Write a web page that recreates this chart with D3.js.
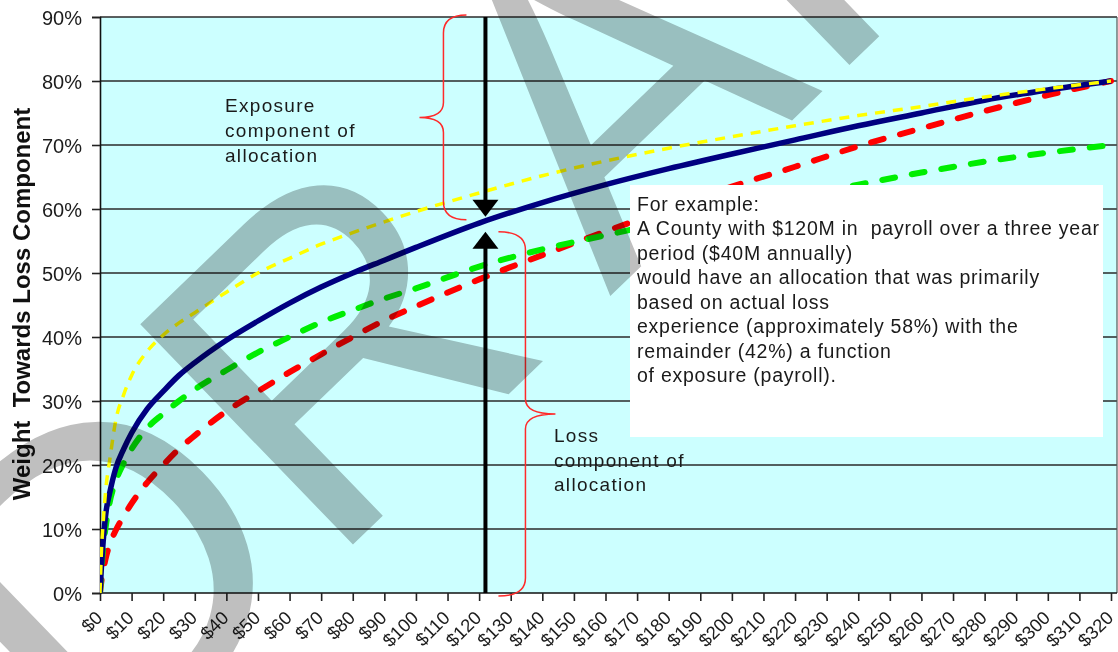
<!DOCTYPE html>
<html>
<head>
<meta charset="utf-8">
<script src="https://cdn.jsdelivr.net/npm/d3@7"></script>
<style>
  html, body { margin: 0; padding: 0; background: #fff; }
  svg { display: block; font-family: Arial, "Liberation Sans", sans-serif; }
</style>
</head>
<body>
<svg id="chart" width="1118" height="652"></svg>
<script>
// Annual payroll ($M) at which each weighting curve is sampled
const payroll = [0, 0.5, 1, 2, 3, 5, 7.5, 10, 15, 20, 25, 30, 40, 50, 60, 70, 80, 90, 100,
                 120, 140, 160, 180, 200, 220, 240, 260, 280, 300, 320];

// Weight given to the loss component (%), one list per curve
const weightYellow = [0, 7, 11, 17, 20.5, 27, 31, 34, 37.8, 40.3, 42.2, 43.8, 47, 50, 52.3, 54.5, 56.3, 58, 59.6,
                      62.5, 65.2, 67.5, 69.5, 71.3, 73, 74.6, 76, 77.5, 78.8, 80];
const weightNavy   = [0, 4.5, 8, 13, 15.5, 19.5, 22.5, 25, 28.8, 31.5, 34, 36, 39.5, 42.5, 45.3, 47.8, 50, 52, 54,
                      57.8, 61, 63.8, 66.3, 68.6, 70.8, 73, 75, 77, 78.6, 80];
const weightGreen  = [0, 4, 7, 11, 14, 17.5, 20.3, 22.5, 25.8, 28, 30, 31.8, 34.8, 37.6, 40, 42.3, 44.2, 46, 47.6,
                      51, 53.7, 55.9, 58, 60, 62, 63.8, 65.7, 67.4, 68.8, 70];
const weightRed    = [0, 2, 3.5, 5.8, 7.5, 9.8, 12, 14, 17.3, 20, 22.5, 24.6, 28.4, 31.5, 34.5, 37.3, 40, 42.6, 44.8,
                      49, 52.8, 56.5, 60, 63.5, 66.6, 69.8, 72.6, 75.3, 77.8, 80];

// Axis ticks and labels
const yTicks = [0, 10, 20, 30, 40, 50, 60, 70, 80, 90];
const yTickLabels = ["0%", "10%", "20%", "30%", "40%", "50%", "60%", "70%", "80%", "90%"];
const xTicks = [0, 10, 20, 30, 40, 50, 60, 70, 80, 90, 100, 110, 120, 130, 140, 150, 160, 170, 180, 190,
                200, 210, 220, 230, 240, 250, 260, 270, 280, 290, 300, 310, 320];
const xTickLabels = ["$0", "$10", "$20", "$30", "$40", "$50", "$60", "$70", "$80", "$90", "$100", "$110", "$120",
                     "$130", "$140", "$150", "$160", "$170", "$180", "$190", "$200", "$210", "$220", "$230",
                     "$240", "$250", "$260", "$270", "$280", "$290", "$300", "$310", "$320"];

// Worked example: $120M payroll, about 58% weight on losses
const examplePayroll = 122;
const exampleWeight = 58;
const exampleLines = [
  "For example:",
  "A County with $120M in  payroll over a three year",
  "period ($40M annually)",
  "would have an allocation that was primarily",
  "based on actual loss",
  "experience (approximately 58%) with the",
  "remainder (42%) a function",
  "of exposure (payroll)."
];
const exposureLabel = ["Exposure", "component of", "allocation"];
const lossLabel = ["Loss", "component of", "allocation"];
const yTitle = "Weight  Towards Loss Component";

const svg = d3.select("#chart");
const W = 1118, H = 652;
const plot = { left: 100, right: 1117, top: 17, bottom: 593 };

const x = d3.scaleLinear().domain([0, 320]).range([100, 1111]);
const y = d3.scaleLinear().domain([0, 90]).range([plot.bottom, plot.top]);

svg.append("rect").attr("width", W).attr("height", H).attr("fill", "#fff");

// plot background
svg.append("rect")
  .attr("x", plot.left).attr("y", plot.top)
  .attr("width", plot.right - plot.left).attr("height", plot.bottom - plot.top)
  .attr("fill", "#ccffff");

// horizontal gridlines
svg.append("g").selectAll("line").data(yTicks.filter(d => d > 0)).join("line")
  .attr("x1", plot.left).attr("x2", plot.right)
  .attr("y1", d => y(d)).attr("y2", d => y(d))
  .attr("stroke", "#2a2a2a").attr("stroke-width", 1.6);

// right border
svg.append("line")
  .attr("x1", plot.right).attr("x2", plot.right)
  .attr("y1", plot.top).attr("y2", plot.bottom)
  .attr("stroke", "#555").attr("stroke-width", 1.2);

// y axis
const yAxis = d3.axisLeft(y).tickValues(yTicks)
  .tickFormat((d, i) => yTickLabels[i]).tickSize(8).tickPadding(10);
const gy = svg.append("g").attr("transform", `translate(${plot.left},0)`).call(yAxis);
gy.select(".domain").attr("stroke", "#111").attr("stroke-width", 1.6);
gy.selectAll(".tick line").attr("stroke", "#222").attr("stroke-width", 1.6);
gy.selectAll(".tick text").attr("font-size", 20).attr("fill", "#1c1c1c")
  .attr("font-family", "Arial, 'Liberation Sans', sans-serif").attr("dy", "0.36em");

// x axis
const xAxis = d3.axisBottom(x).tickValues(xTicks)
  .tickFormat((d, i) => xTickLabels[i]).tickSize(8);
const gx = svg.append("g").attr("transform", `translate(0,${plot.bottom})`).call(xAxis);
gx.select(".domain").attr("d", `M${plot.left},0H${plot.right}`).attr("stroke", "#111").attr("stroke-width", 1.6);
gx.selectAll(".tick line").attr("stroke", "#222").attr("stroke-width", 1.6);
gx.selectAll(".tick text")
  .attr("font-size", 18.5).attr("fill", "#1c1c1c")
  .attr("font-family", "Arial, 'Liberation Sans', sans-serif")
  .attr("text-anchor", "end").attr("y", 0).attr("dy", 0)
  .attr("transform", "translate(3,26) rotate(-45)");

// y axis title
svg.append("text")
  .attr("transform", `translate(30,${(plot.top + plot.bottom) / 2 - 1}) rotate(-90)`)
  .attr("text-anchor", "middle")
  .attr("font-size", 24).attr("font-weight", "bold").attr("fill", "#111")
  .style("white-space", "pre")
  .text(yTitle);

// curves
svg.append("clipPath").attr("id", "plotClip").append("rect")
  .attr("x", plot.left).attr("y", plot.top - 4)
  .attr("width", plot.right - plot.left + 2).attr("height", plot.bottom - plot.top + 4);

const line = d3.line().x(d => x(d[0])).y(d => y(d[1])).curve(d3.curveMonotoneX);
const curves = [
  { values: weightRed,    color: "#ff0000", width: 6,   dash: "13,17", cap: "round" },
  { values: weightGreen,  color: "#00ee00", width: 6,   dash: "13,17", cap: "round" },
  { values: weightNavy,   color: "#000080", width: 5.5, dash: null,    cap: "butt" },
  { values: weightYellow, color: "#ffff00", width: 3.5, dash: "10,8",  cap: "butt" }
];
const gc = svg.append("g").attr("clip-path", "url(#plotClip)");
curves.forEach(c => {
  gc.append("path")
    .attr("d", line(payroll.map((p, i) => [p, c.values[i]])))
    .attr("fill", "none")
    .attr("stroke", c.color)
    .attr("stroke-width", c.width)
    .attr("stroke-linecap", c.cap)
    .attr("stroke-linejoin", "round")
    .attr("stroke-dasharray", c.dash);
});

// example call-out box
const box = { x: 630, y: 185, w: 473, h: 252 };
svg.append("rect").attr("x", box.x).attr("y", box.y).attr("width", box.w).attr("height", box.h)
  .attr("fill", "#fff");
const tb = svg.append("text").attr("font-size", 19.5).attr("fill", "#1a1a1a")
  .attr("letter-spacing", 0.75).style("white-space", "pre");
exampleLines.forEach((t, i) => {
  tb.append("tspan").attr("x", 637).attr("y", 211 + i * 24.45).text(t);
});

// exposure / loss arrows meeting at the example point
const ax = x(examplePayroll);
const yMeet = y(exampleWeight);
const downTip = yMeet - 5, upTip = yMeet + 10;
const headH = 17, headW = 13;
const ga = svg.append("g");
ga.append("line").attr("x1", ax).attr("x2", ax).attr("y1", y(90)).attr("y2", downTip - headH + 1)
  .attr("stroke", "#000").attr("stroke-width", 4);
ga.append("path").attr("d", `M${ax - headW},${downTip - headH}L${ax + headW},${downTip - headH}L${ax},${downTip}Z`)
  .attr("fill", "#000");
ga.append("line").attr("x1", ax).attr("x2", ax).attr("y1", y(0)).attr("y2", upTip + headH - 1)
  .attr("stroke", "#000").attr("stroke-width", 4);
ga.append("path").attr("d", `M${ax - headW},${upTip + headH}L${ax + headW},${upTip + headH}L${ax},${upTip}Z`)
  .attr("fill", "#000");

// braces
function brace(xEnd, xStem, xTip, y0, y1) {
  const ym = (y0 + y1) / 2;
  const r = 18, rt = 15;
  return `M${xEnd},${y0}Q${xStem},${y0} ${xStem},${y0 + r}` +
         `L${xStem},${ym - rt}Q${xStem},${ym} ${xTip},${ym}` +
         `Q${xStem},${ym} ${xStem},${ym + rt}` +
         `L${xStem},${y1 - r}Q${xStem},${y1} ${xEnd},${y1}`;
}
svg.append("path").attr("d", brace(ax - 19, ax - 42, ax - 66, y(90) - 2, downTip + 3))
  .attr("fill", "none").attr("stroke", "#ff2a2a").attr("stroke-width", 1.5);
svg.append("path").attr("d", brace(ax + 13, ax + 40, ax + 70, upTip, y(0) + 3))
  .attr("fill", "none").attr("stroke", "#ff2a2a").attr("stroke-width", 1.5);

// component labels
const expT = svg.append("text").attr("font-size", 19).attr("fill", "#1a1a1a").attr("letter-spacing", 1.3);
exposureLabel.forEach((t, i) => expT.append("tspan").attr("x", 225).attr("y", 112 + i * 25).text(t));
const lossT = svg.append("text").attr("font-size", 19).attr("fill", "#1a1a1a").attr("letter-spacing", 1.3);
lossLabel.forEach((t, i) => lossT.append("tspan").attr("x", 554).attr("y", 442 + i * 24.5).text(t));

// DRAFT watermark, laid diagonally and multiplied over the chart
const wmSize = 445;
const wm = svg.append("g").style("mix-blend-mode", "multiply")
  .attr("transform", "translate(537,8) rotate(-44)")
  .append("text")
  .attr("x", -1.7775 * wmSize - 72).attr("y", 0.58 * wmSize)
  .attr("font-size", wmSize)
  .attr("font-family", "Arial, 'Liberation Sans', sans-serif")
  .attr("fill", "#bfbfbf");
wm.append("tspan").text("DR");
wm.append("tspan").attr("dx", 72).text("AFT");
</script>
</body>
</html>
